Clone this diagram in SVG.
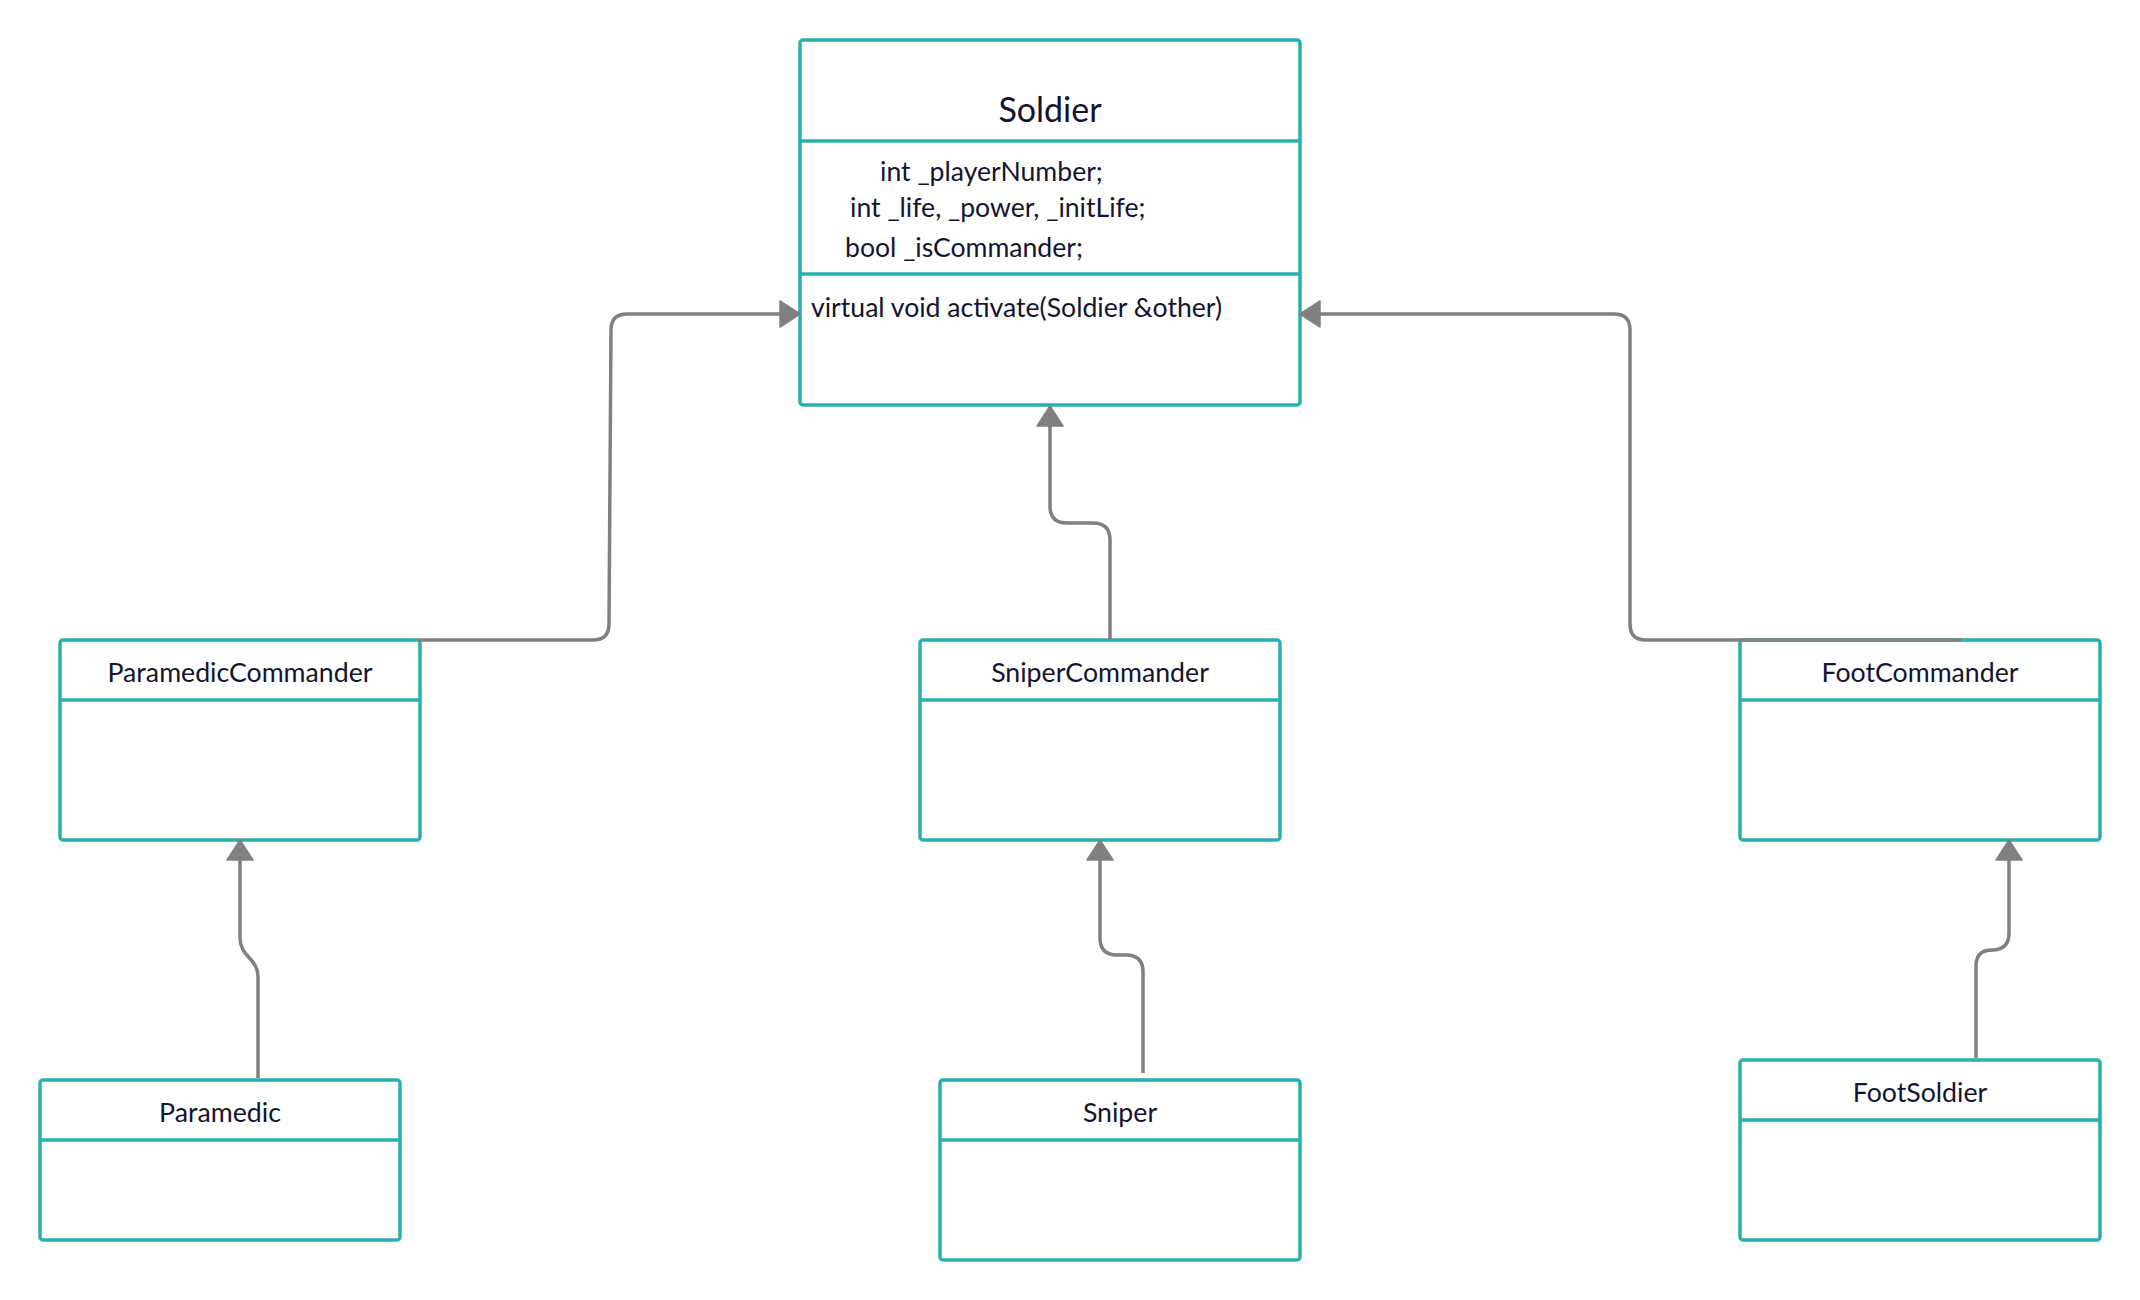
<svg xmlns="http://www.w3.org/2000/svg" width="2140" height="1300" viewBox="0 0 2140 1300">
  <style>
    .box { fill: #ffffff; stroke: #27b0ad; stroke-width: 3.5; }
    .div { stroke: #27b0ad; stroke-width: 3.5; }
    .title { font-family: Lato, "Liberation Sans", sans-serif; font-size: 26.7px; fill: #141430; text-anchor: middle; }
    .big { font-size: 34px; }
    .member { font-family: Lato, "Liberation Sans", sans-serif; font-size: 26.6px; fill: #141430; }
    .edge { fill: none; stroke: #808080; stroke-width: 3.5; stroke-linejoin: round; marker-end: url(#tri); }
  </style>
  <defs>
    <marker id="tri" viewBox="0 0 22 28" refX="21" refY="14" markerWidth="22" markerHeight="28" markerUnits="userSpaceOnUse" orient="auto">
      <path d="M1,1 L21,14 L1,27 Z" fill="#808080" stroke="#808080" stroke-width="1.5" stroke-linejoin="round"/>
    </marker>
  </defs>
  <rect width="2140" height="1300" fill="#ffffff"/>

  <g id="Soldier">
    <rect class="box" x="800" y="40" width="500" height="365" rx="3"/>
    <line class="div" x1="800" y1="141" x2="1300" y2="141"/>
    <line class="div" x1="800" y1="274" x2="1300" y2="274"/>
    <text class="title big" x="1050" y="122">Soldier</text>
    <text class="member" x="880" y="180.5">int _playerNumber;</text>
    <text class="member" x="850" y="216.5">int _life, _power, _initLife;</text>
    <text class="member" x="845" y="256.5">bool _isCommander;</text>
    <text class="member" x="811" y="316.5">virtual void activate(Soldier &amp;other)</text>
  </g>

  <g id="ParamedicCommander">
    <rect class="box" x="60" y="640" width="360" height="200" rx="3"/>
    <line class="div" x1="60" y1="700" x2="420" y2="700"/>
    <text class="title" x="240" y="682">ParamedicCommander</text>
  </g>

  <g id="SniperCommander">
    <rect class="box" x="920" y="640" width="360" height="200" rx="3"/>
    <line class="div" x1="920" y1="700" x2="1280" y2="700"/>
    <text class="title" x="1100" y="682">SniperCommander</text>
  </g>

  <g id="FootCommander">
    <rect class="box" x="1740" y="640" width="360" height="200" rx="3"/>
    <line class="div" x1="1740" y1="700" x2="2100" y2="700"/>
    <text class="title" x="1920" y="682">FootCommander</text>
  </g>

  <g id="Paramedic">
    <rect class="box" x="40" y="1080" width="360" height="160" rx="3"/>
    <line class="div" x1="40" y1="1140" x2="400" y2="1140"/>
    <text class="title" x="220" y="1122">Paramedic</text>
  </g>

  <g id="Sniper">
    <rect class="box" x="940" y="1080" width="360" height="180" rx="3"/>
    <line class="div" x1="940" y1="1140" x2="1300" y2="1140"/>
    <text class="title" x="1120" y="1122">Sniper</text>
  </g>

  <g id="FootSoldier">
    <rect class="box" x="1740" y="1060" width="360" height="180" rx="3"/>
    <line class="div" x1="1740" y1="1120" x2="2100" y2="1120"/>
    <text class="title" x="1920" y="1102">FootSoldier</text>
  </g>

  <g id="connectors">
    <path class="edge" d="M418,640 L593,640 Q609,640 609,624 L611,330 Q611,314 627,314 L800,314"/>
    <path class="edge" d="M1110,640 L1110,540 Q1110,523 1093,523 L1067,523 Q1050,523 1050,506 L1050,406"/>
    <path class="edge" d="M1962,640 L1646,640 Q1630,640 1630,624 L1630,330 Q1630,314 1614,314 L1300,314"/>
    <path class="edge" d="M258,1078 L258,977 C258,958 240,957 240,938 L240,840"/>
    <path class="edge" d="M1143,1073 L1143,972 Q1143,955 1126,955 L1117,955 Q1100,955 1100,938 L1100,840"/>
    <path class="edge" d="M1976,1058 L1976,966 Q1976,950 1992,950 Q2009,950 2009,933 L2009,840"/>
  </g>
</svg>
